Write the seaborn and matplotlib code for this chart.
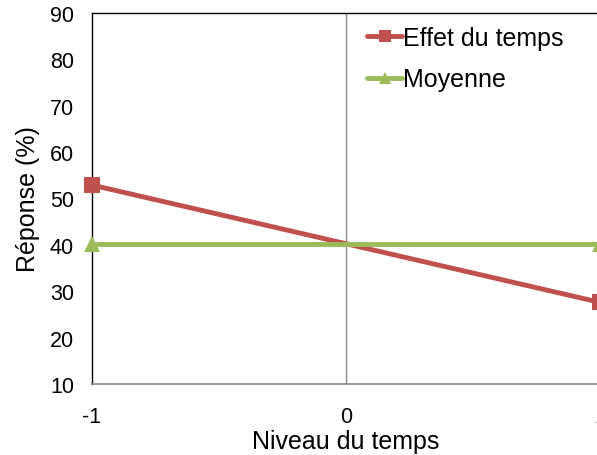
import matplotlib
matplotlib.use("Agg")
import matplotlib.pyplot as plt
import seaborn as sns
import pandas as pd

niveaux = [-1, 1]
effet_temps = [52.9, 27.6]
moyenne = [40.25, 40.25]
series = ["Effet du temps", "Moyenne"]
y_ticks = [10, 20, 30, 40, 50, 60, 70, 80, 90]
x_ticks = [-1, 0, 1]

df = pd.DataFrame({
    "Niveau": niveaux * 2,
    "Réponse": effet_temps + moyenne,
    "Série": [series[0]] * len(niveaux) + [series[1]] * len(niveaux),
})

sns.set_theme(style="white")
plt.rcParams["font.family"] = ["Liberation Sans", "DejaVu Sans"]

fig = plt.figure(figsize=(5.97, 4.56), dpi=100)
# plot area: x -1 at px 92, x 1 at px 600 (just past the right edge)
ax = fig.add_axes([92 / 597, (456 - 385) / 456, 508 / 597, (385 - 14) / 456])

ax.axvline(0, color="#868686", lw=1, zorder=1)

sns.lineplot(
    data=df, x="Niveau", y="Réponse", hue="Série", style="Série",
    palette={series[0]: "#C0504D", series[1]: "#9BBB59"},
    markers={series[0]: "s", series[1]: "^"},
    dashes=False, markersize=12, markeredgewidth=0, linewidth=3.5,
    ax=ax, zorder=3, clip_on=False,
)

ax.set_xlim(-1, 1)
ax.set_ylim(10, 90)
ax.set_xticks(x_ticks)
ax.set_xticklabels([str(v) for v in x_ticks])
ax.set_yticks(y_ticks)
ax.tick_params(axis="both", length=0, labelsize=15.5, colors="black")
ax.tick_params(axis="x", pad=16)
ax.tick_params(axis="y", pad=13)

for side in ["top", "left", "right"]:
    ax.spines[side].set_color("black")
    ax.spines[side].set_linewidth(1)
ax.spines["bottom"].set_color("#868686")
ax.spines["bottom"].set_linewidth(1.2)

ax.set_xlabel("Niveau du temps", fontsize=18, labelpad=1, color="black")
ax.set_ylabel("Réponse (%)", fontsize=18, labelpad=7, color="black")

leg = ax.legend(
    loc="upper left", bbox_to_anchor=((367 - 92) / 508, (385 - 27) / 371),
    frameon=False, fontsize=18, handlelength=1.4, handletextpad=0.05,
    labelspacing=0.7, borderpad=0, borderaxespad=0, markerscale=0.75,
)
for t in leg.get_texts():
    t.set_color("black")

fig.savefig("out.png", dpi=100)
